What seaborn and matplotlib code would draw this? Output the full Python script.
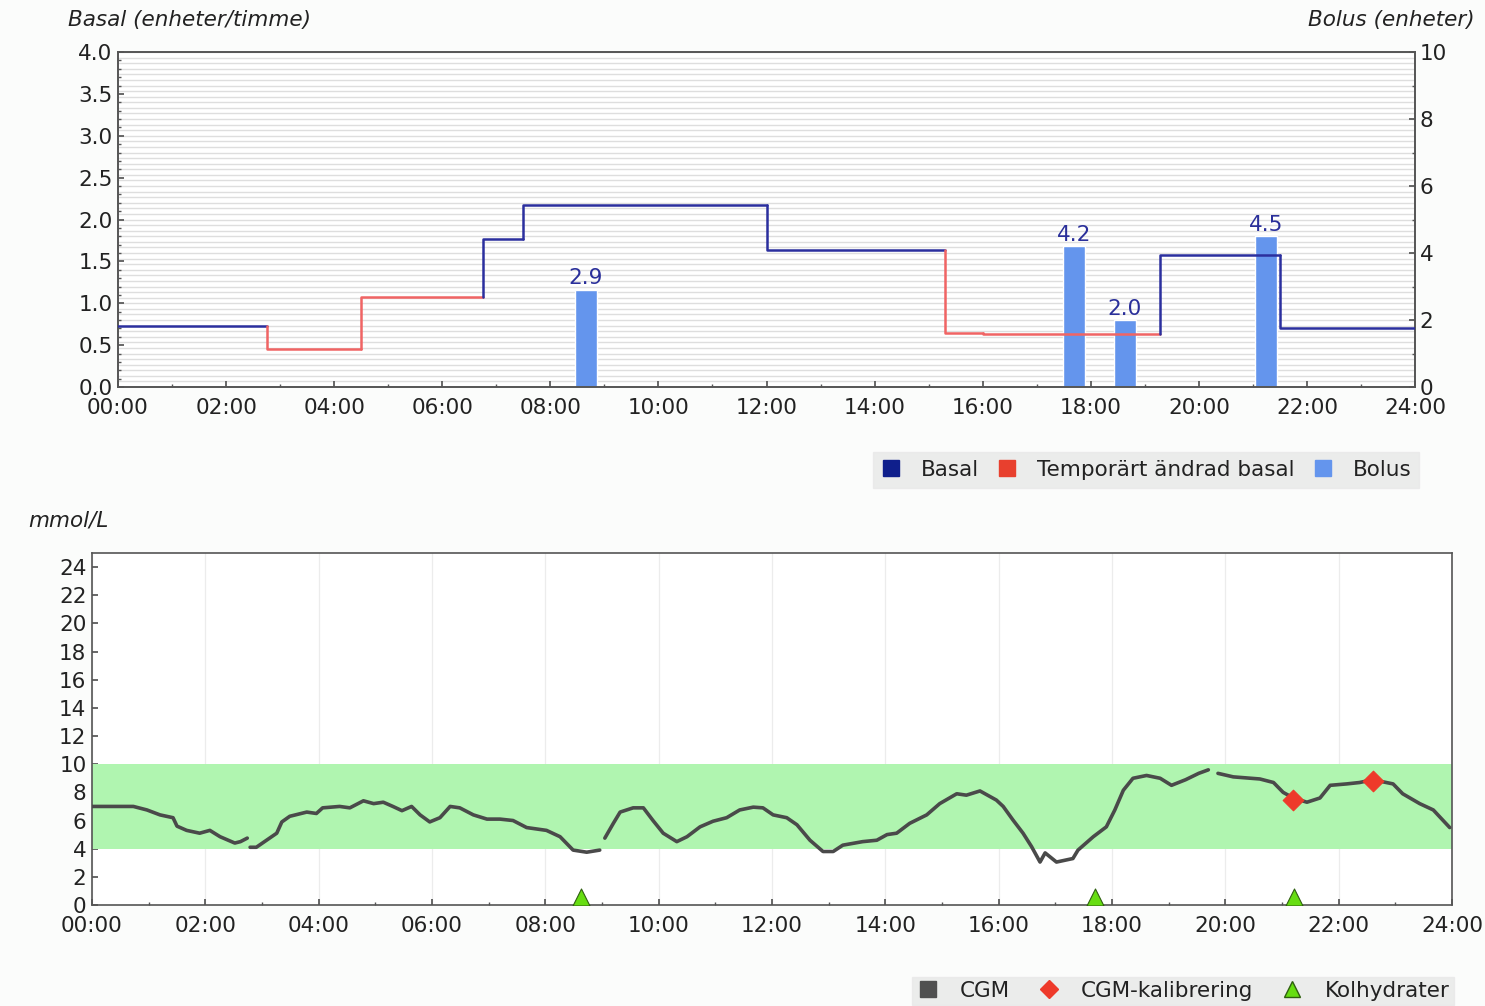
import numpy as np
import pandas as pd
import seaborn as sns
import matplotlib
matplotlib.use("Agg")
import matplotlib.pyplot as plt
from matplotlib.ticker import MultipleLocator, FormatStrFormatter
from matplotlib.lines import Line2D

# ---------------- data ----------------
# Basal program (start hour, rate U/h, type)
basal_start = [0.0, 2.75, 4.5, 6.75, 7.5, 12.0, 15.3, 16.0, 19.28, 21.5]
basal_rate = [0.73, 0.45, 1.07, 1.77, 2.17, 1.63, 0.65, 0.63, 1.58, 0.70]
basal_type = ["Basal", "Temp", "Temp", "Basal", "Basal", "Basal", "Temp", "Temp", "Basal", "Basal"]
basal_end_hour = 24.0

# Bolus doses (hour, units)
bolus_time = [8.66, 17.69, 18.63, 21.24]
bolus_units = [2.9, 4.2, 2.0, 4.5]

# CGM readings (hour, mmol/L), segments separated by sensor gaps
cgm_seg1_t = [0.0, 0.4, 0.73, 0.97, 1.2, 1.43, 1.5, 1.67, 1.9, 2.08, 2.26, 2.52, 2.62, 2.74]
cgm_seg1_v = [7.0, 7.0, 7.0, 6.75, 6.4, 6.2, 5.6, 5.3, 5.1, 5.3, 4.85, 4.4, 4.5, 4.75]
cgm_seg2_t = [2.79, 2.9, 3.08, 3.26, 3.35, 3.49, 3.79, 3.96, 4.07, 4.37, 4.55, 4.79, 4.97, 5.14,
              5.31, 5.47, 5.64, 5.79, 5.96, 6.14, 6.32, 6.49, 6.73, 6.97, 7.2, 7.43, 7.67, 8.02,
              8.26, 8.49, 8.73, 8.96]
cgm_seg2_v = [4.1, 4.1, 4.6, 5.1, 5.9, 6.3, 6.6, 6.5, 6.9, 7.0, 6.9, 7.4, 7.2, 7.3,
              7.0, 6.7, 7.0, 6.4, 5.9, 6.2, 7.0, 6.9, 6.4, 6.1, 6.1, 6.0, 5.5, 5.3,
              4.85, 3.9, 3.75, 3.9]
cgm_seg3_t = [9.05, 9.2, 9.32, 9.55, 9.73, 9.9, 10.08, 10.32, 10.5, 10.73, 10.96, 11.2, 11.43,
              11.67, 11.84, 12.02, 12.26, 12.44, 12.67, 12.9, 13.08, 13.25, 13.6, 13.85, 14.03,
              14.2, 14.43, 14.73, 14.96, 15.26, 15.43, 15.67, 15.96, 16.08, 16.25, 16.43, 16.58,
              16.73, 16.82, 17.02, 17.31, 17.4, 17.67, 17.9, 18.05, 18.2, 18.37, 18.61, 18.85,
              19.05, 19.3, 19.53, 19.7]
cgm_seg3_v = [4.75, 5.8, 6.6, 6.9, 6.9, 6.0, 5.1, 4.5, 4.85, 5.55, 5.95, 6.2, 6.75,
              6.95, 6.9, 6.4, 6.2, 5.7, 4.6, 3.8, 3.8, 4.25, 4.5, 4.6, 5.0,
              5.1, 5.8, 6.4, 7.2, 7.9, 7.8, 8.1, 7.45, 7.0, 6.05, 5.1, 4.15,
              3.05, 3.7, 3.05, 3.3, 3.9, 4.85, 5.55, 6.75, 8.15, 9.0, 9.2, 9.0,
              8.5, 8.9, 9.35, 9.6]
cgm_seg4_t = [19.87, 20.14, 20.61, 20.85, 21.02, 21.2, 21.44, 21.67, 21.85, 22.14, 22.37, 22.6,
              22.96, 23.13, 23.43, 23.67, 23.96]
cgm_seg4_v = [9.35, 9.1, 8.95, 8.7, 8.0, 7.6, 7.3, 7.6, 8.5, 8.6, 8.7, 8.9,
              8.6, 7.9, 7.2, 6.75, 5.5]

calib_time = [21.2, 22.6]
calib_value = [7.45, 8.8]

carb_time = [8.63, 17.7, 21.22]
carb_marker_level = [0.55, 0.55, 0.55]

target_low, target_high = 4, 10

hour_labels = [f"{h:02d}:00" for h in range(0, 25, 2)]

# ---------------- style ----------------
sns.set_theme(style="white")
plt.rcParams["font.family"] = ["DejaVu Sans"]
plt.rcParams["axes.edgecolor"] = "#555555"
plt.rcParams["axes.linewidth"] = 1.2

BG = "#fbfcfb"
BASAL_C = "#2b2f9e"
TEMP_C = "#f06464"
BOLUS_C = "#6495ed"
CGM_C = "#4a4a4a"
TXT = "#222222"
FS = 15.5

fig = plt.figure(figsize=(14.85, 10.06), dpi=100, facecolor=BG)

# ============ top chart ============
ax2 = fig.add_axes([118/1485, 1-387/1006, (1415-118)/1485, (387-52)/1006])
ax2.set_facecolor("white")
ax2.yaxis.tick_right()
# fine horizontal grid (on the lower axes so the bars cover it)
for g in np.arange(0, 10.0001, 10/60):
    ax2.axhline(g, color="#dedede", lw=1.0, zorder=0)
bars = ax2.bar(bolus_time, bolus_units, width=0.4, color=BOLUS_C, zorder=2)
ax2.bar_label(bars, fmt="%.1f", color="#2a2f9a", fontsize=FS, padding=1)
ax2.set_xlim(0, 24)
ax2.set_ylim(0, 10)

ax = fig.add_axes([118/1485, 1-387/1006, (1415-118)/1485, (387-52)/1006], sharex=ax2)
ax.patch.set_visible(False)

# basal steps
ends = basal_start[1:] + [basal_end_hour]
prev = basal_rate[0]
for s, e, r, t in zip(basal_start, ends, basal_rate, basal_type):
    seg = pd.DataFrame({"x": [s, s, e], "y": [prev, r, r]})
    sns.lineplot(data=seg, x="x", y="y", ax=ax, estimator=None, sort=False,
                 color=BASAL_C if t == "Basal" else TEMP_C, lw=1.8, zorder=3)
    prev = r
ax.set_xlim(0, 24)
ax.set_ylim(0, 4)

ax.set_xlabel("")
ax.set_ylabel("")
ax2.set_ylabel("")
ax.set_xticks(range(0, 25, 2))
ax.set_xticklabels(hour_labels)
ax.xaxis.set_minor_locator(MultipleLocator(1))
ax.yaxis.set_major_locator(MultipleLocator(0.5))
ax.yaxis.set_minor_locator(MultipleLocator(0.1))
ax.yaxis.set_major_formatter(FormatStrFormatter("%.1f"))
ax.tick_params(axis="both", which="major", direction="in", length=4, color="#555555",
               labelsize=FS, labelcolor=TXT, left=True, bottom=True, pad=4)
ax.tick_params(axis="both", which="minor", direction="in", length=2.5, color="#555555",
               left=True, bottom=True)
ax.tick_params(axis="x", pad=8)
ax2.tick_params(axis="x", bottom=False, labelbottom=False)
ax2.yaxis.set_major_locator(MultipleLocator(2))
ax2.yaxis.set_minor_locator(MultipleLocator(1))
ax2.tick_params(axis="y", which="major", direction="in", length=4, color="#555555",
                labelsize=FS, labelcolor=TXT, right=True, left=False)
ax2.tick_params(axis="y", which="minor", direction="in", length=2.5, color="#555555",
                right=True, left=False)
ax2.grid(False)
ax.grid(False)

fig.text(68/1485, 1-20/1006, "Basal (enheter/timme)", style="italic", fontsize=FS,
         color=TXT, ha="left", va="center")
fig.text(1475/1485, 1-20/1006, "Bolus (enheter)", style="italic", fontsize=FS,
         color=TXT, ha="right", va="center")

h_top = [Line2D([], [], marker="s", ls="", color="#0f1f8c", markersize=12),
         Line2D([], [], marker="s", ls="", color="#e8402e", markersize=12),
         Line2D([], [], marker="s", ls="", color=BOLUS_C, markersize=12)]
leg1 = fig.legend(h_top, ["Basal", "Temporärt ändrad basal", "Bolus"], ncol=3,
                  loc="center", bbox_to_anchor=(1146/1485, 1-470/1006), frameon=True,
                  fancybox=False, facecolor="#e8e8e8", edgecolor="#e8e8e8", fontsize=FS,
                  handletextpad=0.9, columnspacing=0.8, handlelength=1.0, borderpad=0.35)
for t in leg1.get_texts():
    t.set_color(TXT)

# ============ bottom chart ============
bx = fig.add_axes([92/1485, 1-905/1006, (1452-92)/1485, (905-553)/1006])
bx.set_facecolor("white")
for g in range(0, 25, 2):
    bx.axvline(g, color="#ececec", lw=0.9, zorder=0)
bx.axhspan(target_low, target_high, color="#b0f5b0", lw=0, zorder=1)

segs = [(cgm_seg1_t, cgm_seg1_v), (cgm_seg2_t, cgm_seg2_v),
        (cgm_seg3_t, cgm_seg3_v), (cgm_seg4_t, cgm_seg4_v)]
cgm_df = pd.concat([pd.DataFrame({"t": t, "v": v, "seg": i}) for i, (t, v) in enumerate(segs)],
                   ignore_index=True)
sns.lineplot(data=cgm_df, x="t", y="v", units="seg", estimator=None, sort=False, ax=bx,
             color=CGM_C, lw=2.6, zorder=3)

sns.scatterplot(x=calib_time, y=calib_value, ax=bx, marker="D", color="#ee3a2a",
                s=110, edgecolor="#ee3a2a", zorder=4)
sns.scatterplot(x=carb_time, y=carb_marker_level, ax=bx, marker="^", color="#66dd11",
                s=150, edgecolor="#2f5f10", linewidth=0.8, zorder=4)
bx.set_xlim(0, 24)
bx.set_ylim(0, 25)

bx.set_xlabel("")
bx.set_ylabel("")
bx.set_xticks(range(0, 25, 2))
bx.set_xticklabels(hour_labels)
bx.xaxis.set_minor_locator(MultipleLocator(1))
bx.set_yticks(range(0, 25, 2))
bx.tick_params(axis="both", which="major", direction="in", length=4, color="#555555",
               labelsize=FS, labelcolor=TXT, left=True, bottom=True, pad=4)
bx.tick_params(axis="x", pad=8)
bx.tick_params(axis="x", which="minor", direction="in", length=2.5, color="#555555", bottom=True)
bx.grid(False)

fig.text(28/1485, 1-521/1006, "mmol/L", style="italic", fontsize=FS, color=TXT,
         ha="left", va="center")

h_bot = [Line2D([], [], marker="s", ls="", color="#505050", markersize=11),
         Line2D([], [], marker="D", ls="", color="#ee3a2a", markersize=9),
         Line2D([], [], marker="^", ls="", color="#66dd11", markeredgecolor="#2f5f10",
                markersize=12)]
leg2 = fig.legend(h_bot, ["CGM", "CGM-kalibrering", "Kolhydrater"], ncol=3,
                  loc="center", bbox_to_anchor=(1183/1485, 1-991/1006), frameon=True,
                  fancybox=False, facecolor="#e8e8e8", edgecolor="#e8e8e8", fontsize=FS,
                  handletextpad=1.0, columnspacing=1.3, handlelength=1.0, borderpad=0.2)
for t in leg2.get_texts():
    t.set_color(TXT)

fig.savefig("out.png", dpi=100, facecolor=BG)
